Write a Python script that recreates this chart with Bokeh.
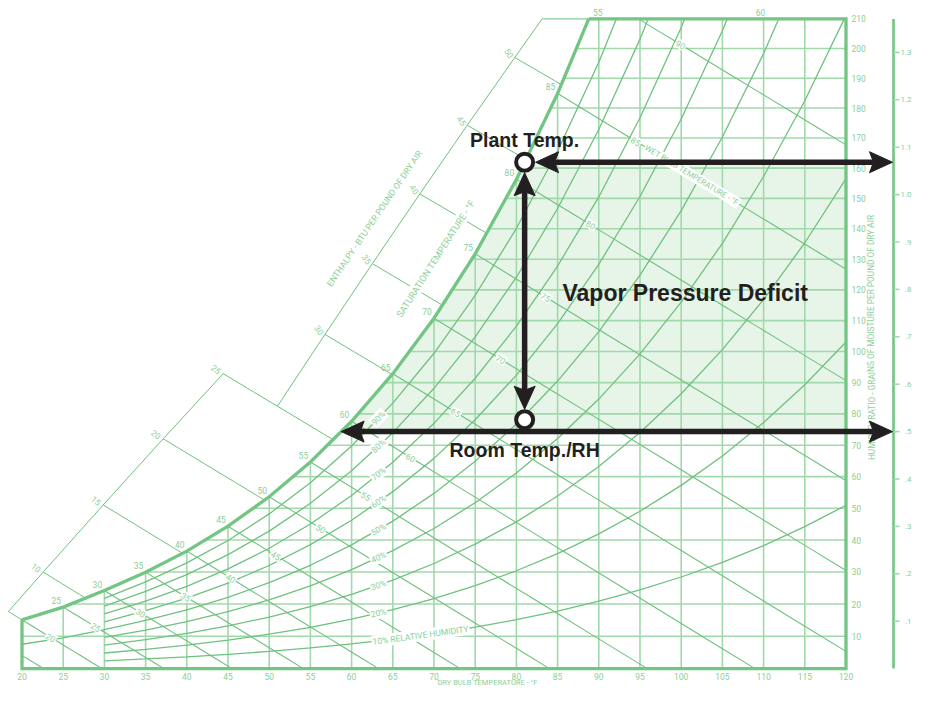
import math
import numpy as np
from bokeh.plotting import figure
from bokeh.models import ColumnDataSource
from bokeh.core.properties import value
from bokeh.embed import file_html
from bokeh.resources import INLINE

# ---------------- chart values ----------------
sat_temp_f = [15, 20, 25, 30, 35, 40, 45, 50, 55, 60, 65, 70, 75, 80, 85, 90,
              95, 100, 105, 110, 115, 120]
sat_vp_inhg = [0.0806, 0.1028, 0.1297, 0.1646, 0.2035, 0.2478, 0.3004, 0.3626,
               0.4359, 0.5218, 0.6222, 0.7392, 0.8750, 1.0321, 1.2133, 1.4215,
               1.6600, 1.9325, 2.2429, 2.5955, 2.9947, 3.4458]
dry_bulb_ticks = [20, 25, 30, 35, 40, 45, 50, 55, 60, 65, 70, 75, 80, 85, 90,
                  95, 100, 105, 110, 115, 120]
grain_ticks = [10, 20, 30, 40, 50, 60, 70, 80, 90, 100, 110, 120, 130, 140,
               150, 160, 170, 180, 190, 200, 210]
vp_ticks = [0.1, 0.2, 0.3, 0.4, 0.5, 0.6, 0.7, 0.8, 0.9, 1.0, 1.1, 1.2, 1.3]
vp_tick_labels = [".1", ".2", ".3", ".4", ".5", ".6", ".7", ".8", ".9",
                  "1.0", "1.1", "1.2", "1.3"]
rh_levels = [0.1, 0.2, 0.3, 0.4, 0.5, 0.6, 0.7, 0.8, 0.9]
rh_start_f = [30, 30, 30, 30, 20, 30, 30, 30, 30]
rh_tick_labels = ["10% RELATIVE HUMIDITY", "20%", "30%", "40%", "50%", "60%",
                  "70%", "80%", "90%"]
wet_bulb_f = [15, 20, 25, 30, 35, 40, 45, 50, 55, 60, 65, 70, 75, 80, 85, 90]
enthalpy_lower = [10, 15, 20, 25]
enthalpy_upper = [30, 35, 40, 45, 50]
enthalpy_top = [55, 60]
sat_label_f = [25, 30, 35, 40, 45, 50, 55, 60, 65, 70, 75, 80, 85]
plant_temp_f = 81.0
room_vp_inhg = 0.525
room_dew_vp_inhg = 0.50

# ---------------- layout / style ----------------
W_PX, H_PX = 912, 686
SX = 8.24      # px per degree F
SY = 474.0     # px per inch Hg
X_LEFT = 20 - 21.5 / SX
Y_TOP = 668.1 / SY
P_BARO = 29.79

BORDER = "#72c582"
LINE = "#6ec17e"
GRID = "#a1d9ab"
TXT = "#8bcf97"
FILL = "#e7f4e8"
INK = "#231f20"
SMALL_FONT = "Roboto"
BOLD_FONT = "Liberation Sans"


def dx(px):
    return px / SX


def dy(px):
    return px / SY


def at_px(x, y):
    """screen pixel -> data coordinates (used for free-standing titles)"""
    return X_LEFT + x / SX, Y_TOP - y / SY


def ps(t):
    return float(np.interp(t, sat_temp_f, sat_vp_inhg))


def sat_t(pv):
    return float(np.interp(pv, sat_vp_inhg, sat_temp_f))


def w_to_p(w):
    return P_BARO * w / (0.622 + w)


def gr_to_p(g):
    return w_to_p(g / 7000.0)


def p_to_w(pv):
    return 0.622 * pv / (P_BARO - pv)


def wb_w(twb, t):
    ws = p_to_w(ps(twb))
    return ((1093 - 0.556 * twb) * ws - 0.240 * (t - twb)) / (1093 + 0.444 * t - twb)


def h_w(h, t):
    return (h - 0.240 * t) / (1061 + 0.444 * t)


def bisect(f, a, b, n=60):
    fa = f(a)
    for _ in range(n):
        m = 0.5 * (a + b)
        fm = f(m)
        if (fm > 0) == (fa > 0):
            a, fa = m, fm
        else:
            b = m
    return 0.5 * (a + b)


def clip_top(xs, ys, top):
    ox, oy = [xs[0]], [ys[0]]
    for i in range(1, len(xs)):
        if ys[i] <= top:
            ox.append(xs[i]); oy.append(ys[i])
        else:
            f = (top - ys[i - 1]) / (ys[i] - ys[i - 1])
            ox.append(xs[i - 1] + f * (xs[i] - xs[i - 1])); oy.append(top)
            break
    return ox, oy


def px_angle(dt, dp):
    return math.degrees(math.atan2(dp * SY, dt * SX))


T_MIN, T_MAX = dry_bulb_ticks[0], dry_bulb_ticks[-1]
P_TOP = gr_to_p(grain_ticks[-1])
T_SAT_TOP = sat_t(P_TOP)

p = figure(width=W_PX, height=H_PX,
           x_range=(X_LEFT, X_LEFT + W_PX / SX),
           y_range=(Y_TOP - H_PX / SY, Y_TOP),
           output_backend="svg", toolbar_location=None,
           x_axis_location=None, y_axis_location=None,
           min_border=0, outline_line_color=None,
           background_fill_color="white", border_fill_color="white")
p.grid.visible = False


def txt(xs, ys, ss, size="8.5px", color=TXT, angles=None, align="center",
        baseline="middle", font=SMALL_FONT, style="normal", bg=False):
    n = len(ss)
    src = ColumnDataSource(dict(x=list(xs), y=list(ys), t=list(ss),
                                a=list(angles) if angles is not None else [0.0] * n))
    kw = {}
    if bg:
        kw = dict(background_fill_color="white", padding=1)
    p.text(x="x", y="y", text="t", angle="a", angle_units="deg", source=src,
           text_font=value(font), text_font_size=size, text_color=color,
           text_align=align, text_baseline=baseline, text_font_style=style, **kw)


# ---------------- shaded VPD region ----------------
p_hi = ps(plant_temp_f)
p_lo = room_dew_vp_inhg
t_lo = sat_t(p_lo)
mid = [t for t in sat_temp_f if t_lo < t < plant_temp_f]
p.patch([t_lo] + mid + [plant_temp_f, T_MAX, T_MAX],
        [p_lo] + [ps(t) for t in mid] + [p_hi, p_hi, p_lo],
        fill_color=FILL, line_color=None)

# ---------------- grid ----------------
gx, gy = [], []
for t in dry_bulb_ticks[1:-1]:
    gx.append([t, t]); gy.append([0, min(ps(t), P_TOP)])
for g in grain_ticks[:-1]:
    pg = gr_to_p(g)
    gx.append([max(T_MIN, sat_t(pg)), T_MAX]); gy.append([pg, pg])
p.multi_line(gx, gy, line_color=GRID, line_width=1.6)

# ---------------- relative humidity curves ----------------
rx, ry = [], []
for rh, t0 in zip(rh_levels, rh_start_f):
    ts = [t for t in sat_temp_f if t >= t0]
    xs, ys = clip_top(ts, [rh * ps(t) for t in ts], P_TOP)
    rx.append(xs); ry.append(ys)
p.multi_line(rx, ry, line_color=LINE, line_width=1.3)

# ---------------- wet bulb lines ----------------
wx, wy = [], []
for twb in wet_bulb_f:
    if twb < T_MIN:
        t0 = T_MIN
    elif ps(twb) > P_TOP:
        t0 = bisect(lambda t: w_to_p(wb_w(twb, t)) - P_TOP, twb, T_MAX)
    else:
        t0 = twb
    t_zero = twb + (1093 - 0.556 * twb) * p_to_w(ps(twb)) / 0.240
    t1 = min(t_zero, T_MAX)
    ts = np.linspace(t0, t1, 12)
    wx.append(list(ts)); wy.append([max(w_to_p(wb_w(twb, t)), 0.0) for t in ts])
p.multi_line(wx, wy, line_color=LINE, line_width=1.1)

# ---------------- enthalpy scale and lines ----------------
def low_t(h):
    return 22.57 + (h - 10) * (44.42 - 22.57) / 15.0


def up_t(h):
    return 51.0 + (h - 25) * (79.8 - 51.0) / 25.0


h_min = 0.240 * T_MIN + p_to_w(ps(T_MIN)) * (1061 + 0.444 * T_MIN)
h_top = bisect(lambda h: w_to_p(h_w(h, up_t(h))) - P_TOP, 50, 60)


def h_pt(h, t):
    return w_to_p(h_w(h, t))


ex, ey = [], []
for h, tf in [(h_min, low_t)] + [(h, low_t) for h in enthalpy_lower] + \
        [(h, up_t) for h in enthalpy_upper]:
    ta = tf(h)
    tb = bisect(lambda t: h_pt(h, t) - ps(t), ta, 100)
    ts = np.linspace(ta, tb, 8)
    ex.append(list(ts)); ey.append([h_pt(h, t) for t in ts])
low_hs = [h_min] + enthalpy_lower
up_hs = [enthalpy_lower[-1]] + enthalpy_upper + [h_top]
ex.append([low_t(h) for h in low_hs]); ey.append([h_pt(h, low_t(h)) for h in low_hs])
ex.append([up_t(h) for h in up_hs]); ey.append([h_pt(h, up_t(h)) for h in up_hs])
ex.append([up_t(h_top), T_SAT_TOP]); ey.append([P_TOP, P_TOP])
p.multi_line(ex, ey, line_color=LINE, line_width=1.0)

# ---------------- border and saturation curve ----------------
sat_ts = [t for t in sat_temp_f if T_MIN <= t < T_SAT_TOP] + [T_SAT_TOP]
p.multi_line([[T_SAT_TOP, T_MAX, T_MAX, T_MIN, T_MIN], sat_ts],
             [[P_TOP, P_TOP, 0, 0, ps(T_MIN)], [ps(t) for t in sat_ts]],
             line_color=BORDER, line_width=3.3, line_join="miter")

# vapor pressure axis (inches of mercury = the main y scale)
T_VP = at_px(893, 0)[0]
p.segment(x0=[T_VP], y0=[0], x1=[T_VP], y1=[P_TOP], line_color=BORDER, line_width=2.6)
p.segment(x0=[T_VP] * len(vp_ticks), y0=vp_ticks,
          x1=[T_VP + dx(6)] * len(vp_ticks), y1=vp_ticks,
          line_color=GRID, line_width=1.6)
txt([at_px(911, 0)[0]] * len(vp_ticks), vp_ticks, vp_tick_labels, size="8px",
    align="right")

# ---------------- small labels ----------------
# dry bulb tick labels
txt(dry_bulb_ticks, [-dy(7.4)] * len(dry_bulb_ticks), [str(t) for t in dry_bulb_ticks])
tx_, ty_ = at_px(487, 681.6)
txt([tx_], [ty_], ["DRY BULB TEMPERATURE - \u00b0F"], size="7.5px")
# grains labels
txt([T_MAX + dx(5.5)] * len(grain_ticks), [gr_to_p(g) for g in grain_ticks],
    [str(g) for g in grain_ticks], align="left")
tx_, ty_ = at_px(871, 337)
txt([tx_], [ty_], ["HUMIDITY RATIO - GRAINS OF MOISTURE PER POUND OF DRY AIR"],
    size="8.3px", angles=[90])

# saturation temperature labels
txt([t - dx(7) for t in sat_label_f], [ps(t) + dy(6.5) for t in sat_label_f],
    [str(t) for t in sat_label_f])
sl = (ps(75) - ps(70)) / 5.0
tx_, ty_ = at_px(435, 258)
txt([tx_], [ty_], ["SATURATION TEMPERATURE - \u00b0F"],
    size="9.3px", angles=[px_angle(1, sl)], bg=True)

# enthalpy labels
txt([low_t(h) - dx(7) for h in enthalpy_lower],
    [h_pt(h, low_t(h)) + dy(4.5) for h in enthalpy_lower],
    [str(h) for h in enthalpy_lower], angles=[-38] * len(enthalpy_lower))
txt([up_t(h) - dx(5.5) for h in enthalpy_upper],
    [h_pt(h, up_t(h)) + dy(4.5) for h in enthalpy_upper],
    [str(h) for h in enthalpy_upper], angles=[-55] * len(enthalpy_upper))
w_top = grain_ticks[-1] / 7000.0
txt([(h - w_top * 1061) / (0.240 + w_top * 0.444) - dx(13) for h in enthalpy_top],
    [P_TOP + dy(6.5)] * len(enthalpy_top), [str(h) for h in enthalpy_top])
ang_up = px_angle(up_t(50) - up_t(25), h_pt(50, up_t(50)) - h_pt(25, up_t(25)))
tx_, ty_ = at_px(374, 218)
txt([tx_], [ty_], ["ENTHALPY - BTU PER POUND OF DRY AIR"],
    size="8.7px", angles=[ang_up])

# wet bulb labels
lx, ly, la, ls = [], [], [], []
for twb in wet_bulb_f[1:]:
    t = twb + 3.5 + 0.092 * (twb - 20)
    y = w_to_p(wb_w(twb, t))
    y2 = w_to_p(wb_w(twb, t + 1))
    lx.append(t); ly.append(y); la.append(px_angle(1, y2 - y)); ls.append(str(twb))
txt(lx, ly, ls, angles=la, bg=True)
tw = 101.3
y = w_to_p(wb_w(85, tw))
txt([tw], [y], ["WET BULB TEMPERATURE - \u00b0F"], size="8px",
    angles=[px_angle(1, w_to_p(wb_w(85, tw + 1)) - y)], bg=True)

# relative humidity labels
rlx, rly, rla = [], [], []
for i, rh in enumerate(rh_levels):
    t = 68.36 if i == 0 else 63.27
    rlx.append(t); rly.append(rh * ps(t))
    rla.append(px_angle(1, rh * (ps(t + 0.5) - ps(t - 0.5))))
txt(rlx, rly, rh_tick_labels, angles=rla, bg=True)

# ---------------- arrows ----------------
L, HW, N = 23.0, 10.5, 4.0


def head(tx, ty, d):
    if d == "r":
        pts = [(0, 0), (-L, HW), (-L + N, 0), (-L, -HW)]
    elif d == "l":
        pts = [(0, 0), (L, HW), (L - N, 0), (L, -HW)]
    elif d == "u":
        pts = [(0, 0), (HW, -L), (0, -L + N), (-HW, -L)]
    else:
        pts = [(0, 0), (HW, L), (0, L - N), (-HW, L)]
    return [tx + dx(a) for a, b in pts], [ty + dy(b) for a, b in pts]


hx, hy = [], []
sx0, sy0, sx1, sy1 = [], [], [], []
# plant horizontal arrow
a0 = plant_temp_f + dx(11); a1 = T_VP - dx(1)
for xy in (head(a0, p_hi, "l"), head(a1, p_hi, "r")):
    hx.append(xy[0]); hy.append(xy[1])
sx0.append(a0 + dx(L - N)); sx1.append(a1 - dx(L - N)); sy0.append(p_hi); sy1.append(p_hi)
# room horizontal arrow
b0 = sat_t(p_lo); b1 = T_VP - dx(1)
for xy in (head(b0, p_lo, "l"), head(b1, p_lo, "r")):
    hx.append(xy[0]); hy.append(xy[1])
sx0.append(b0 + dx(L - N)); sx1.append(b1 - dx(L - N)); sy0.append(p_lo); sy1.append(p_lo)
# vertical arrow
c0 = p_hi - dy(10.5); c1 = room_vp_inhg + dy(10.5)
for xy in (head(plant_temp_f, c0, "u"), head(plant_temp_f, c1, "d")):
    hx.append(xy[0]); hy.append(xy[1])
sx0.append(plant_temp_f); sx1.append(plant_temp_f)
sy0.append(c0 - dy(L - N)); sy1.append(c1 + dy(L - N))
p.segment(x0=sx0, y0=sy0, x1=sx1, y1=sy1, line_color=INK, line_width=5.5)
p.patches(hx, hy, fill_color=INK, line_color=INK, line_width=1)

p.scatter([plant_temp_f, plant_temp_f], [p_hi, room_vp_inhg], size=17,
          fill_color="white", line_color=INK, line_width=4)

txt([plant_temp_f], [p_hi + dy(22.5)], ["Plant Temp."], size="19.5px", color=INK,
    font=BOLD_FONT, style="bold")
txt([plant_temp_f], [room_vp_inhg - dy(30)], ["Room Temp./RH"], size="19.5px", color=INK,
    font=BOLD_FONT, style="bold")
tx_, ty_ = at_px(562, 292)
txt([tx_], [ty_], ["Vapor Pressure Deficit"], size="23px",
    color=INK, font=BOLD_FONT, style="bold", align="left")

open("out.html", "w").write(file_html(p, INLINE))
